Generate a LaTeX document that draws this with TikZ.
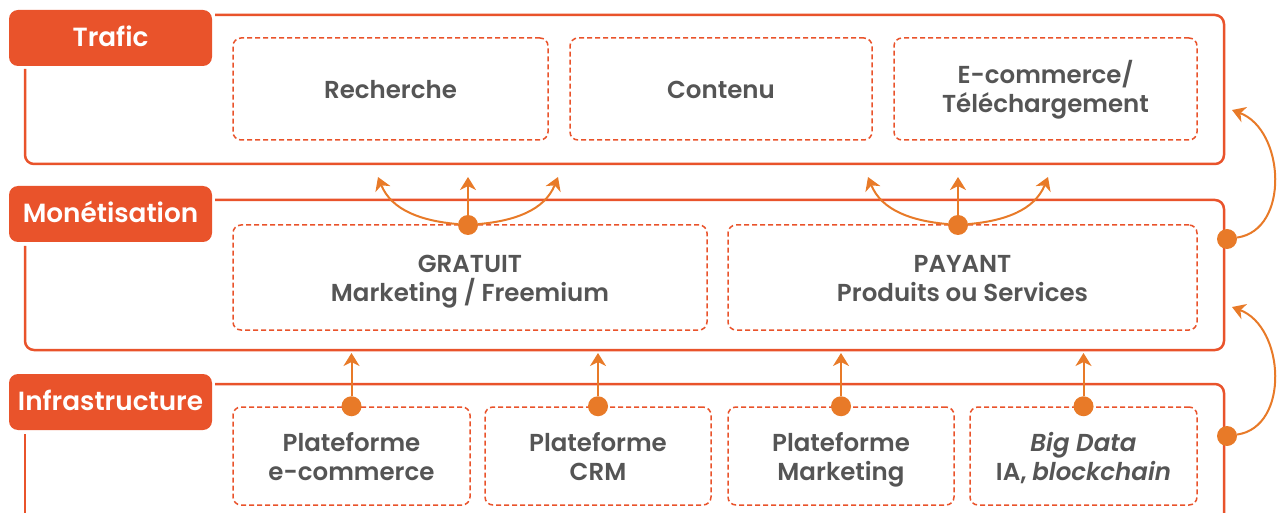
\documentclass[tikz,border=0pt]{standalone}
\usepackage{fontspec}
\setmainfont{Poppins}[BoldFont={Poppins SemiBold}, BoldItalicFont={Poppins SemiBold Italic}]
\usetikzlibrary{arrows.meta}
\definecolor{fr}{HTML}{E9532B}
\definecolor{ar}{HTML}{E87A28}
\definecolor{tx}{HTML}{555555}
\newcommand{\myl}[1]{\rule[-4pt]{0pt}{27pt}\smash{#1}}
\newcommand{\myt}[1]{\rule[-3pt]{0pt}{23pt}\smash{#1}}
\begin{document}
\begin{tikzpicture}[x=1pt,y=-1pt,
 tab/.style={fill=fr, rounded corners=9pt, minimum width=203pt, minimum height=56pt, inner sep=0, text=white, font=\bfseries\fontsize{26.3}{28}\selectfont},
 frame/.style={draw=fr, line width=2.5pt, rounded corners=9pt},
 dbox/.style={draw=fr, line width=1.5pt, dash pattern=on 5pt off 3pt, rounded corners=8pt, inner sep=0, align=center, text=tx, font=\bfseries\fontsize{24.5}{29}\selectfont},
 dot/.style={circle, fill=ar, minimum size=20pt, inner sep=0},
 arr/.style={draw=ar, line width=2pt, -{Stealth[length=13pt, width=16pt, inset=4pt]}},
]
\useasboundingbox (0,0) rectangle (1277,513);
% frames
\draw[frame] (215,15) -- (1224,15) -- (1224,164) -- (25,164) -- (25,69);
\draw[frame] (215,200) -- (1224,200) -- (1224,350) -- (25,350) -- (25,246);
\draw[frame] (215,384) -- (1224,384) -- (1224,530);
\draw[frame] (25,434) -- (25,530);
% tabs
\node[tab] (trafic) at (110.5,38) {\myt{Trafic}};
\node[tab] (monet) at (110.5,214) {\myt{Monétisation}};
\node[tab] (infra) at (110.5,402) {\myt{Infrastructure}};
% trafic boxes
\node[dbox, minimum width=315pt, minimum height=102pt] (rech) at (390.5,89) {\myl{Recherche}};
\node[dbox, minimum width=302pt, minimum height=102pt] (cont) at (721,89) {\myl{Contenu}};
\node[dbox, minimum width=303pt, minimum height=102pt] (ecom) at (1045.5,89) {\myl{E-commerce/}\\\myl{Téléchargement}};
% monetisation boxes
\node[dbox, minimum width=474pt, minimum height=105pt] (grat) at (470,277.5) {\myl{GRATUIT}\\\myl{Marketing / Freemium}};
\node[dbox, minimum width=469pt, minimum height=105pt] (pay) at (962.5,277.5) {\myl{PAYANT}\\\myl{Produits ou Services}};
% infrastructure boxes
\node[dbox, minimum width=237pt, minimum height=98pt] (p1) at (351.5,456) {\myl{Plateforme}\\\myl{e-commerce}};
\node[dbox, minimum width=226pt, minimum height=98pt] (p2) at (598,456) {\myl{Plateforme}\\\myl{CRM}};
\node[dbox, minimum width=226pt, minimum height=98pt] (p3) at (841,456) {\myl{Plateforme}\\\myl{Marketing}};
\node[dbox, minimum width=227pt, minimum height=98pt] (p4) at (1083.5,456) {\myl{\textit{Big Data}}\\\myl{IA, \textit{blockchain}}};
% infra -> monet arrows
\foreach \i in {1,2,3,4}{
  \node[dot] (d\i) at (p\i.north) {};
  \coordinate (u\i) at (p\i.north |- 0,353);
  \draw[arr] (d\i) -- (u\i);
}
% monet -> trafic arrows
\node[dot] (dg) at (468,225) {};
\coordinate (g1) at (378,177);
\coordinate (g2) at (468,177);
\coordinate (g3) at (558,177);
\draw[arr] (dg) to[out=175,in=-68] (g1);
\draw[arr] (dg) -- (g2);
\draw[arr] (dg) to[out=5,in=-112] (g3);
\node[dot] (dp) at (958,225) {};
\coordinate (q1) at (868,177);
\coordinate (q2) at (958,177);
\coordinate (q3) at (1048,177);
\draw[arr] (dp) to[out=175,in=-68] (q1);
\draw[arr] (dp) -- (q2);
\draw[arr] (dp) to[out=5,in=-112] (q3);
% right side arcs
\node[dot] (rm) at (1227,239) {};
\coordinate (rt) at (1232,110);
\draw[arr] (rm) .. controls (1290,230) and (1285,130) .. (rt);
\node[dot] (ri) at (1227,436) {};
\coordinate (rs) at (1232,307);
\draw[arr] (ri) .. controls (1290,427) and (1285,327) .. (rs);
\end{tikzpicture}
\end{document}
